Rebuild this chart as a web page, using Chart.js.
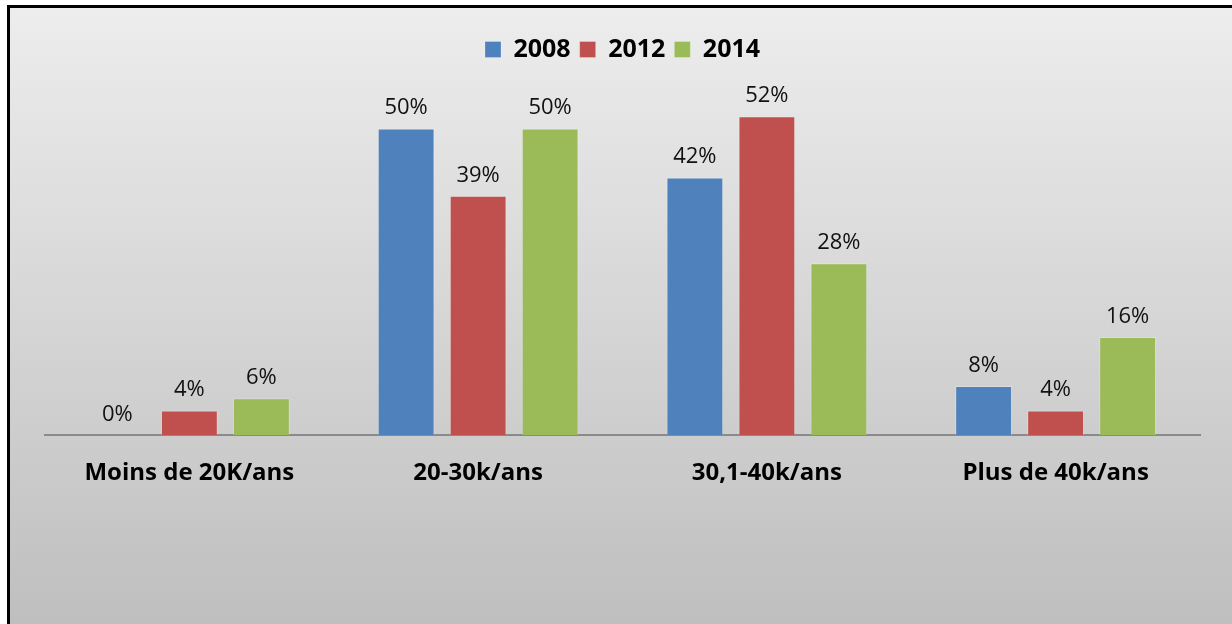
<!DOCTYPE html>
<html>
<head>
<meta charset="utf-8">
<script src="https://cdn.jsdelivr.net/npm/chart.js@4/dist/chart.umd.min.js"></script>
<style>
  html, body { margin: 0; padding: 0; background: #fff; }
  #c { display: block; }
</style>
</head>
<body>
<canvas id="c" width="1232" height="624"></canvas>
<script>
const categories = ["Moins de 20K/ans", "20-30k/ans", "30,1-40k/ans", "Plus de 40k/ans"];
const seriesNames = ["2008", "2012", "2014"];
const values2008 = [0, 50, 42, 8];
const values2012 = [4, 39, 52, 4];
const values2014 = [6, 50, 28, 16];
const seriesColors = ["#4f81bd", "#c0504d", "#9bbb59"];
const yMax = 59.2;

const FONT = "'Open Sans', 'Liberation Sans', sans-serif";

const backgroundPlugin = {
  id: 'bgframe',
  beforeDraw(chart) {
    const ctx = chart.ctx;
    const w = chart.width, h = chart.height;
    ctx.save();
    ctx.fillStyle = '#ffffff';
    ctx.fillRect(0, 0, w, h);
    const g = ctx.createLinearGradient(0, 6, 0, 700);
    g.addColorStop(0, '#ededed');
    g.addColorStop(1, '#b9b9b9');
    ctx.fillStyle = g;
    ctx.fillRect(8, 6, w - 8, h - 6);
    ctx.fillStyle = '#000000';
    ctx.fillRect(7, 5, 3, h - 5);
    ctx.fillRect(7, 5, w - 7, 3);
    ctx.restore();
  }
};

const valueLabels = {
  id: 'valueLabels',
  afterDatasetsDraw(chart) {
    const ctx = chart.ctx;
    ctx.save();
    ctx.font = "22px " + FONT;
    ctx.fillStyle = '#111111';
    ctx.textAlign = 'center';
    ctx.textBaseline = 'alphabetic';
    chart.data.datasets.forEach((ds, i) => {
      const meta = chart.getDatasetMeta(i);
      meta.data.forEach((bar, j) => {
        ctx.fillText(ds.data[j] + '%', bar.x, bar.y - 14);
      });
    });
    ctx.restore();
  }
};

new Chart(document.getElementById('c'), {
  type: 'bar',
  data: {
    labels: categories,
    datasets: [
      { label: seriesNames[0], data: values2008, backgroundColor: seriesColors[0], borderColor: 'rgba(255,255,255,0.25)', borderWidth: 1 },
      { label: seriesNames[1], data: values2012, backgroundColor: seriesColors[1], borderColor: 'rgba(255,255,255,0.25)', borderWidth: 1 },
      { label: seriesNames[2], data: values2014, backgroundColor: seriesColors[2], borderColor: 'rgba(255,255,255,0.25)', borderWidth: 1 }
    ]
  },
  options: {
    responsive: false,
    animation: false,
    devicePixelRatio: 1,
    categoryPercentage: 0.748,
    barPercentage: 0.79,
    layout: { padding: { left: 45, right: 32, top: 28, bottom: 0 } },
    plugins: {
      legend: {
        display: true,
        position: 'top',
        labels: {
          font: { family: FONT, size: 25, weight: 'bold' },
          color: '#000000',
          boxWidth: 16,
          boxHeight: 16,
          padding: 9
        }
      },
      tooltip: { enabled: false }
    },
    scales: {
      x: {
        grid: { display: false, drawTicks: false },
        border: { display: true, color: '#8a8a8a', width: 2 },
        ticks: {
          font: { family: FONT, size: 24, weight: 'bold' },
          color: '#000000',
          padding: 24
        },
        afterFit(scale) { scale.height = 624 - 435; }
      },
      y: {
        display: false,
        min: 0,
        max: yMax
      }
    }
  },
  plugins: [backgroundPlugin, valueLabels]
});
</script>
</body>
</html>
